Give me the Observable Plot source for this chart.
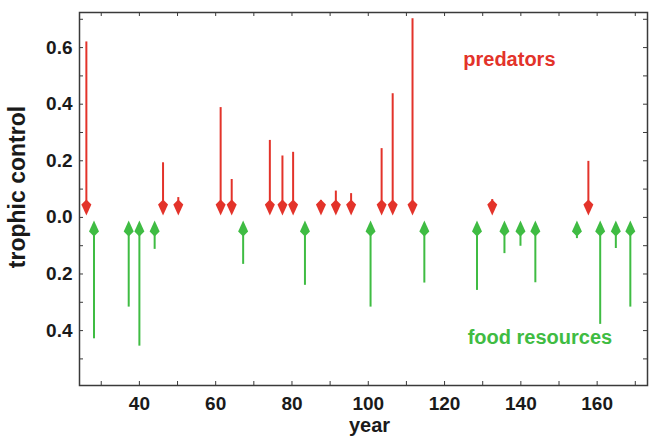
<!DOCTYPE html>
<html><head><meta charset="utf-8">
<script src="https://cdn.jsdelivr.net/npm/d3@7"></script>
<script src="https://cdn.jsdelivr.net/npm/@observablehq/plot@0.6"></script>
<style>html,body{margin:0;padding:0;background:#fff} svg{display:block}</style>
</head><body><div id="chart"></div>
<script>
// Predators (red arrows pointing down to 0)
const predatorYears  = [26.1, 46.2, 50.2, 61.3, 64.2, 74.2, 77.5, 80.3, 87.6, 91.5, 95.5, 103.5, 106.4, 111.6, 132.5, 157.7];
const predatorValues = [0.62, 0.193, 0.07, 0.388, 0.134, 0.272, 0.217, 0.23, 0.06, 0.093, 0.084, 0.243, 0.437, 0.702, 0.063, 0.198];
// Food resources (green arrows pointing up to 0), plotted below zero
const resourceYears  = [28.1, 37.2, 40.0, 44.0, 67.2, 83.4, 100.6, 114.7, 128.5, 135.7, 139.9, 143.8, 154.7, 160.8, 164.9, 168.7];
const resourceValues = [-0.429, -0.317, -0.455, -0.113, -0.166, -0.24, -0.317, -0.232, -0.258, -0.128, -0.102, -0.231, -0.075, -0.378, -0.11, -0.317];

const xTickLabels = [40, 60, 80, 100, 120, 140, 160];
const xMinorTicks = [30, 40, 50, 60, 70, 80, 90, 100, 110, 120, 130, 140, 150, 160, 170];
const yTickLabels = [-0.4, -0.2, 0, 0.2, 0.4, 0.6];
const yMinorTicks = [-0.5, -0.4, -0.3, -0.2, -0.1, 0, 0.1, 0.2, 0.3, 0.4, 0.5, 0.6, 0.7];

const RED = "#e3332a", GREEN = "#3fbc43", AXIS = "#3a3a3a";

const predators = predatorYears.map((x, i) => ({x, v: predatorValues[i]}));
const resources = resourceYears.map((x, i) => ({x, v: resourceValues[i]}));

// kite-shaped arrowheads
const headDown = {draw(ctx) { ctx.moveTo(0, -2); ctx.lineTo(-5, -13); ctx.lineTo(0, -18); ctx.lineTo(5, -13); ctx.closePath(); }};
const headUp   = {draw(ctx) { ctx.moveTo(0, 3); ctx.lineTo(-5, 14); ctx.lineTo(0, 19); ctx.lineTo(5, 14); ctx.closePath(); }};

const W = 649, H = 438, ML = 79, MR = 2, MT = 12, MB = 53;
const pw = W - ML - MR, ph = H - MT - MB;

const chart = Plot.plot({
  width: W, height: H,
  marginLeft: ML, marginRight: MR, marginTop: MT, marginBottom: MB,
  style: {fontFamily: "'Liberation Sans', Arial, sans-serif", fontSize: "19px", fontWeight: "bold", color: "#1a1a1a", background: "#fff"},
  x: {domain: [24.3, 173.2]},
  y: {domain: [-0.594, 0.724]},
  marks: [
    Plot.ruleX(predators, {x: "x", y1: "v", y2: 0.04, stroke: RED, strokeWidth: 2}),
    Plot.dot(predators, {x: "x", y: 0, symbol: headDown, r: 5, fill: RED, stroke: "none"}),
    Plot.ruleX(resources, {x: "x", y1: "v", y2: -0.04, stroke: GREEN, strokeWidth: 2}),
    Plot.dot(resources, {x: "x", y: 0, symbol: headUp, r: 5, fill: GREEN, stroke: "none"}),
    Plot.tickX(xMinorTicks, {x: d => d, insetTop: ph - 4, stroke: AXIS}),
    Plot.tickX(xMinorTicks, {x: d => d, insetBottom: ph - 4, stroke: AXIS}),
    Plot.tickY(yMinorTicks, {y: d => d, insetRight: pw - 4, stroke: AXIS}),
    Plot.tickY(yMinorTicks, {y: d => d, insetLeft: pw - 4, stroke: AXIS}),
    Plot.frame({stroke: AXIS, strokeWidth: 1.5}),
    Plot.axisX(xTickLabels, {tickSize: 0, tickPadding: 11, label: null}),
    Plot.axisY(yTickLabels, {tickSize: 0, tickPadding: 7, label: null, tickFormat: d => d3.format(".1f")(Math.abs(d))}),
    Plot.text(["predators"], {x: 137, y: 0.558, fill: RED, fontSize: 20, fontWeight: "bold"}),
    Plot.text(["food resources"], {x: 145, y: -0.423, fill: GREEN, fontSize: 20, fontWeight: "bold"}),
    Plot.text(["year"], {frameAnchor: "bottom", textAnchor: "middle", dx: 6, dy: 46, fontSize: 20, fontWeight: "bold", fill: "#1a1a1a"}),
    Plot.text(["trophic control"], {frameAnchor: "left", textAnchor: "middle", dx: -62, dy: -12, rotate: -90, fontSize: 23, fontWeight: "bold", fill: "#1a1a1a"})
  ]
});
document.getElementById("chart").appendChild(chart);
</script>
</body></html>
